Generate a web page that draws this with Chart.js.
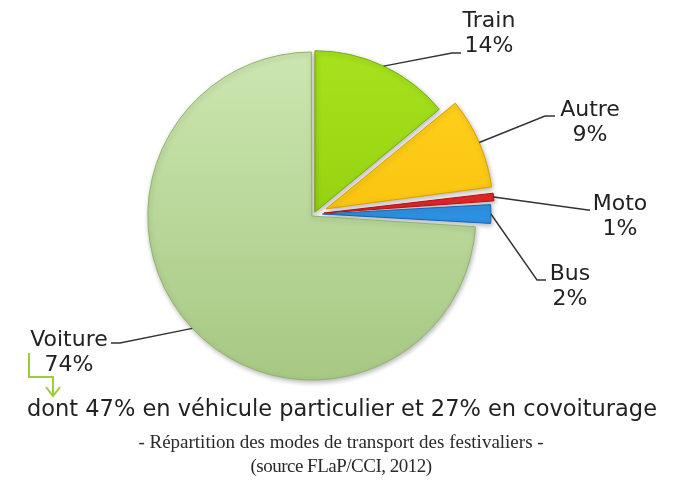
<!DOCTYPE html>
<html lang="fr">
<head>
<meta charset="utf-8">
<title>Modes de transport des festivaliers</title>
<script src="https://cdn.jsdelivr.net/npm/chart.js@4/dist/chart.umd.min.js"></script>
<style>
  html, body { margin: 0; padding: 0; background: #fff; }
  #wrap { position: relative; width: 681px; height: 482px; overflow: hidden; }
  #pie { position: absolute; left: 0; top: 0; }
  .note {
    position: absolute; left: 0; width: 684px; text-align: center;
    font-family: "DejaVu Sans", Verdana, sans-serif; font-size: 22.5px; color: #222;
    top: 394px; line-height: 28px; white-space: nowrap;
  }
  .caption {
    position: absolute; left: 0; width: 682px; text-align: center;
    font-family: "Liberation Serif", "Times New Roman", serif; font-size: 19px; color: #2a2a2a;
    line-height: 24px; white-space: nowrap;
  }
</style>
</head>
<body>
<div id="wrap">
  <canvas id="pie" width="681" height="482"></canvas>
  <div class="note">dont 47% en véhicule particulier et 27% en covoiturage</div>
  <div class="caption" style="top:430px">- Répartition des modes de transport des festivaliers -</div>
  <div class="caption" style="top:454px; letter-spacing:-0.5px">(source FLaP/CCI, 2012)</div>
</div>
<script>
// modes de transport, en % des festivaliers
const modes = ["Train", "Autre", "Moto", "Bus", "Voiture"];
const parts = [14, 9, 1, 2, 74];

// couleurs des parts : clair en haut, foncé en bas
const teintes = [
  ["#a6e21e", "#86c200"],
  ["#ffd420", "#f5b500"],
  ["#f23434", "#d41616"],
  ["#3da2f2", "#1e7ed4"],
  ["#cce6b0", "#a5c882"]
];
const bords = ["#7aae08", "#d9a000", "#b51010", "#1566b0", "#90b46c"];

// étiquettes : coude du trait, fin du trait, centre du texte
const etiquettes = [
  { coude: [452, 53], fin: [461, 53], tx: 489, ty: 21 },
  { coude: [545, 116], fin: [555, 116], tx: 590, ty: 110 },
  { coude: [588, 210], fin: [590, 210], tx: 620, ty: 204 },
  { coude: [537, 280], fin: [546, 280], tx: 570, ty: 274 },
  { coude: [120, 343], fin: [111, 343], tx: 69, ty: 340 }
];

const remplissage = (c) => {
  const { chartArea } = c.chart;
  const t = teintes[c.dataIndex];
  if (!chartArea) return t[0];
  const g = c.chart.ctx.createLinearGradient(0, 50, 0, 385);
  g.addColorStop(0, t[0]);
  g.addColorStop(1, t[1]);
  return g;
};

// ombre légère sous le camembert
const ombre = {
  id: "ombre",
  beforeDatasetsDraw(chart) {
    const ctx = chart.ctx;
    ctx.save();
    ctx.shadowColor = "rgba(0,0,0,0.28)";
    ctx.shadowBlur = 5;
    ctx.shadowOffsetX = 1;
    ctx.shadowOffsetY = 2;
  },
  afterDatasetsDraw(chart) {
    chart.ctx.restore();
  }
};

// traits de rappel + textes des parts, flèche verte sous Voiture
const legendes = {
  id: "legendes",
  afterDraw(chart) {
    const ctx = chart.ctx;
    const arcs = chart.getDatasetMeta(0).data;
    ctx.save();
    arcs.forEach((arc, i) => {
      const p = arc.getProps(["x", "y", "startAngle", "endAngle", "outerRadius"], true);
      // même décalage que ArcElement.draw : translation offset/4, rayon agrandi
      const dec = (arc.options.offset || 0) / 4;
      const circ = p.endAngle - p.startAngle;
      const fix = 1 - Math.sin(Math.min(Math.PI, circ));
      const r = p.outerRadius + dec * fix + dec;
      const mid = (p.startAngle + p.endAngle) / 2;
      const ax = p.x + Math.cos(mid) * r;
      const ay = p.y + Math.sin(mid) * r;
      const e = etiquettes[i];
      ctx.strokeStyle = "#333";
      ctx.lineWidth = 1.4;
      ctx.beginPath();
      ctx.moveTo(ax, ay);
      ctx.lineTo(e.coude[0], e.coude[1]);
      ctx.lineTo(e.fin[0], e.fin[1]);
      ctx.stroke();

      ctx.fillStyle = "#222";
      ctx.font = "22px 'DejaVu Sans', Verdana, sans-serif";
      ctx.textAlign = "center";
      ctx.textBaseline = "middle";
      ctx.fillText(modes[i], e.tx, e.ty);
      ctx.fillText(parts[i] + "%", e.tx, e.ty + 25);
    });

    // flèche vers la ligne de détail
    ctx.strokeStyle = "#9ccc3c";
    ctx.lineWidth = 2;
    ctx.beginPath();
    ctx.moveTo(29, 353);
    ctx.lineTo(29, 377);
    ctx.lineTo(53, 377);
    ctx.lineTo(53, 396);
    ctx.moveTo(46, 387);
    ctx.lineTo(53, 396);
    ctx.lineTo(60, 387);
    ctx.stroke();
    ctx.restore();
  }
};

new Chart(document.getElementById("pie"), {
  type: "pie",
  data: {
    labels: modes,
    datasets: [{
      data: parts,
      backgroundColor: remplissage,
      borderColor: bords,
      borderWidth: 1,
      offset: [8, 52, 40, 34, 12]
    }]
  },
  options: {
    responsive: false,
    animation: false,
    radius: 161,
    layout: { padding: { left: 0, right: 53, top: 0, bottom: 54 } },
    plugins: {
      legend: { display: false },
      tooltip: { enabled: false },
      title: { display: false }
    },
    events: []
  },
  plugins: [ombre, legendes]
});
</script>
</body>
</html>
